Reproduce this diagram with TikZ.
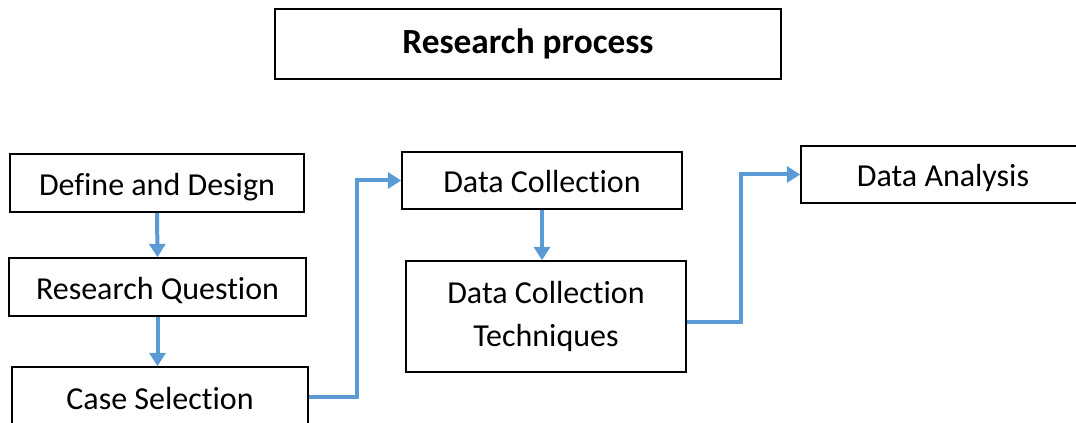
\documentclass[tikz,border=0pt]{standalone}
\usepackage{fontspec}
\setmainfont{Carlito}[Ligatures=NoCommon]
\usetikzlibrary{arrows.meta}
\definecolor{arrblue}{RGB}{91,155,213}
\tikzset{
  box/.style={draw=black, line width=1.2pt, rectangle, inner sep=0pt, align=center, font=\fontsize{24}{32.5}\selectfont},
  one/.style={text height=23.5pt, text depth=5pt},
  arr/.style={draw=arrblue, line width=3pt, -{Triangle[length=10pt,width=12pt]}}
}
\begin{document}
\begin{tikzpicture}[x=0.75pt,y=-0.75pt]
\useasboundingbox (0,0) rectangle (1076,423);
\clip (0,0) rectangle (1076,423);
\node[box, minimum width=506*0.75pt, minimum height=70*0.75pt, font=\fontsize{26.5}{34}\selectfont\bfseries] (title) at (528,44) {Research process};
\node[box, one, minimum width=294*0.75pt, minimum height=58*0.75pt] (def) at (157,183) {Define and Design};
\node[box, one, minimum width=297*0.75pt, minimum height=58*0.75pt] (rq) at (157.5,287) {Research Question};
\node[box, one, minimum width=296*0.75pt, minimum height=60*0.75pt] (case) at (160,397) {Case Selection};
\node[box, one, minimum width=280*0.75pt, minimum height=57*0.75pt] (dc) at (542,180.5) {Data Collection};
\node[box, minimum width=280*0.75pt, minimum height=111*0.75pt] (dct) at (546,316.5) {Data Collection\\Techniques};
\node[box, one, minimum width=284*0.75pt, minimum height=57*0.75pt] (da) at (943,174.5) {Data Analysis};
\draw[arr] (def.south) -- (rq.north);
\draw[arr] (rq.south) -- (rq.south |- case.north);
\draw[arr] (case.east) -- ++(48,0) |- (dc.west);
\draw[arr] (dc.south) -- (dc.south |- dct.north);
\draw[arr] ([yshift=-4pt]dct.east) -- ++(54,0) |- (da.west);
\end{tikzpicture}
\end{document}
